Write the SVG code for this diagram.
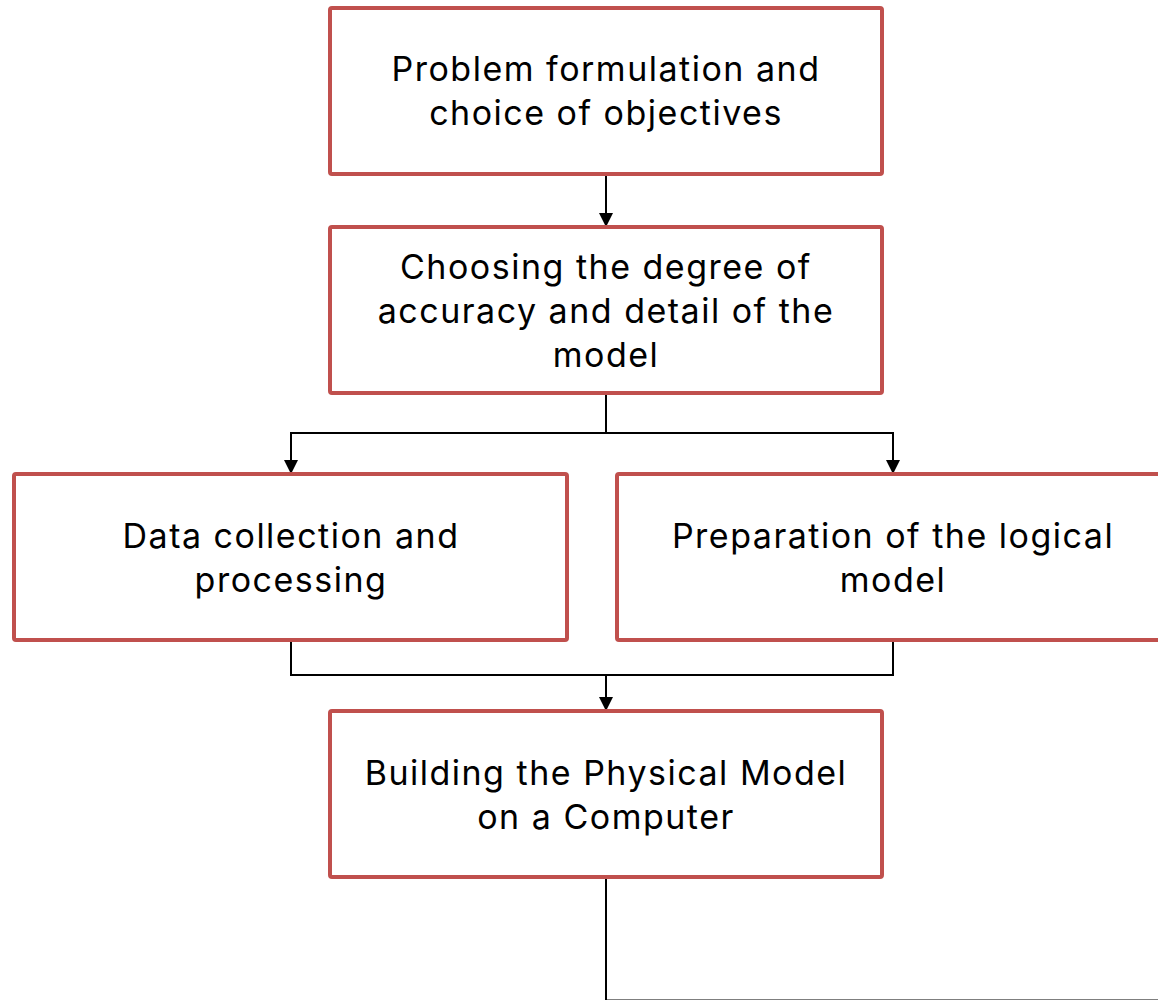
<svg xmlns="http://www.w3.org/2000/svg" width="1158" height="1000" viewBox="0 0 1158 1000">
  <style>
    .box { fill: #ffffff; stroke: #c0504d; stroke-width: 4; }
    .label { font-family: Inter, "Noto Sans", sans-serif; font-size: 34px; letter-spacing: 1.5px; fill: #000000; text-anchor: middle; }
    .wire { fill: none; stroke: #000000; stroke-width: 2; }
  </style>
  <defs>
    <marker id="head" viewBox="0 0 14 14" refX="14" refY="7" markerWidth="14" markerHeight="14" markerUnits="userSpaceOnUse" orient="auto">
      <path d="M0,0 L14,7 L0,14 Z" fill="#000000"/>
    </marker>
  </defs>
  <rect width="1158" height="1000" fill="#ffffff"/>

  <g id="connectors">
    <path class="wire" d="M606,174 V227" marker-end="url(#head)"/>
    <path class="wire" d="M606,393 V433 H291 V474" marker-end="url(#head)"/>
    <path class="wire" d="M606,433 H893 V474" marker-end="url(#head)"/>
    <path class="wire" d="M291,640 V675 H893 V640"/>
    <path class="wire" d="M606,675 V711" marker-end="url(#head)"/>
    <path class="wire" d="M606,878 V1000.5 H1160"/>
  </g>

  <g id="problem">
    <rect class="box" x="330" y="8" width="552" height="166" rx="2"/>
    <text class="label" x="606" y="81">Problem formulation and</text>
    <text class="label" x="606" y="125">choice of objectives</text>
  </g>

  <g id="accuracy">
    <rect class="box" x="330" y="227" width="552" height="166" rx="2"/>
    <text class="label" x="606" y="279">Choosing the degree of</text>
    <text class="label" x="606" y="323">accuracy and detail of the</text>
    <text class="label" x="606" y="367">model</text>
  </g>

  <g id="data">
    <rect class="box" x="14" y="474" width="553" height="166" rx="2"/>
    <text class="label" x="291" y="548">Data collection and</text>
    <text class="label" x="291" y="592">processing</text>
  </g>

  <g id="logical">
    <rect class="box" x="617" y="474" width="552" height="166" rx="2"/>
    <text class="label" x="893" y="548">Preparation of the logical</text>
    <text class="label" x="893" y="592">model</text>
  </g>

  <g id="physical">
    <rect class="box" x="330" y="711" width="552" height="166" rx="2"/>
    <text class="label" x="606" y="785">Building the Physical Model</text>
    <text class="label" x="606" y="829">on a Computer</text>
  </g>
</svg>
